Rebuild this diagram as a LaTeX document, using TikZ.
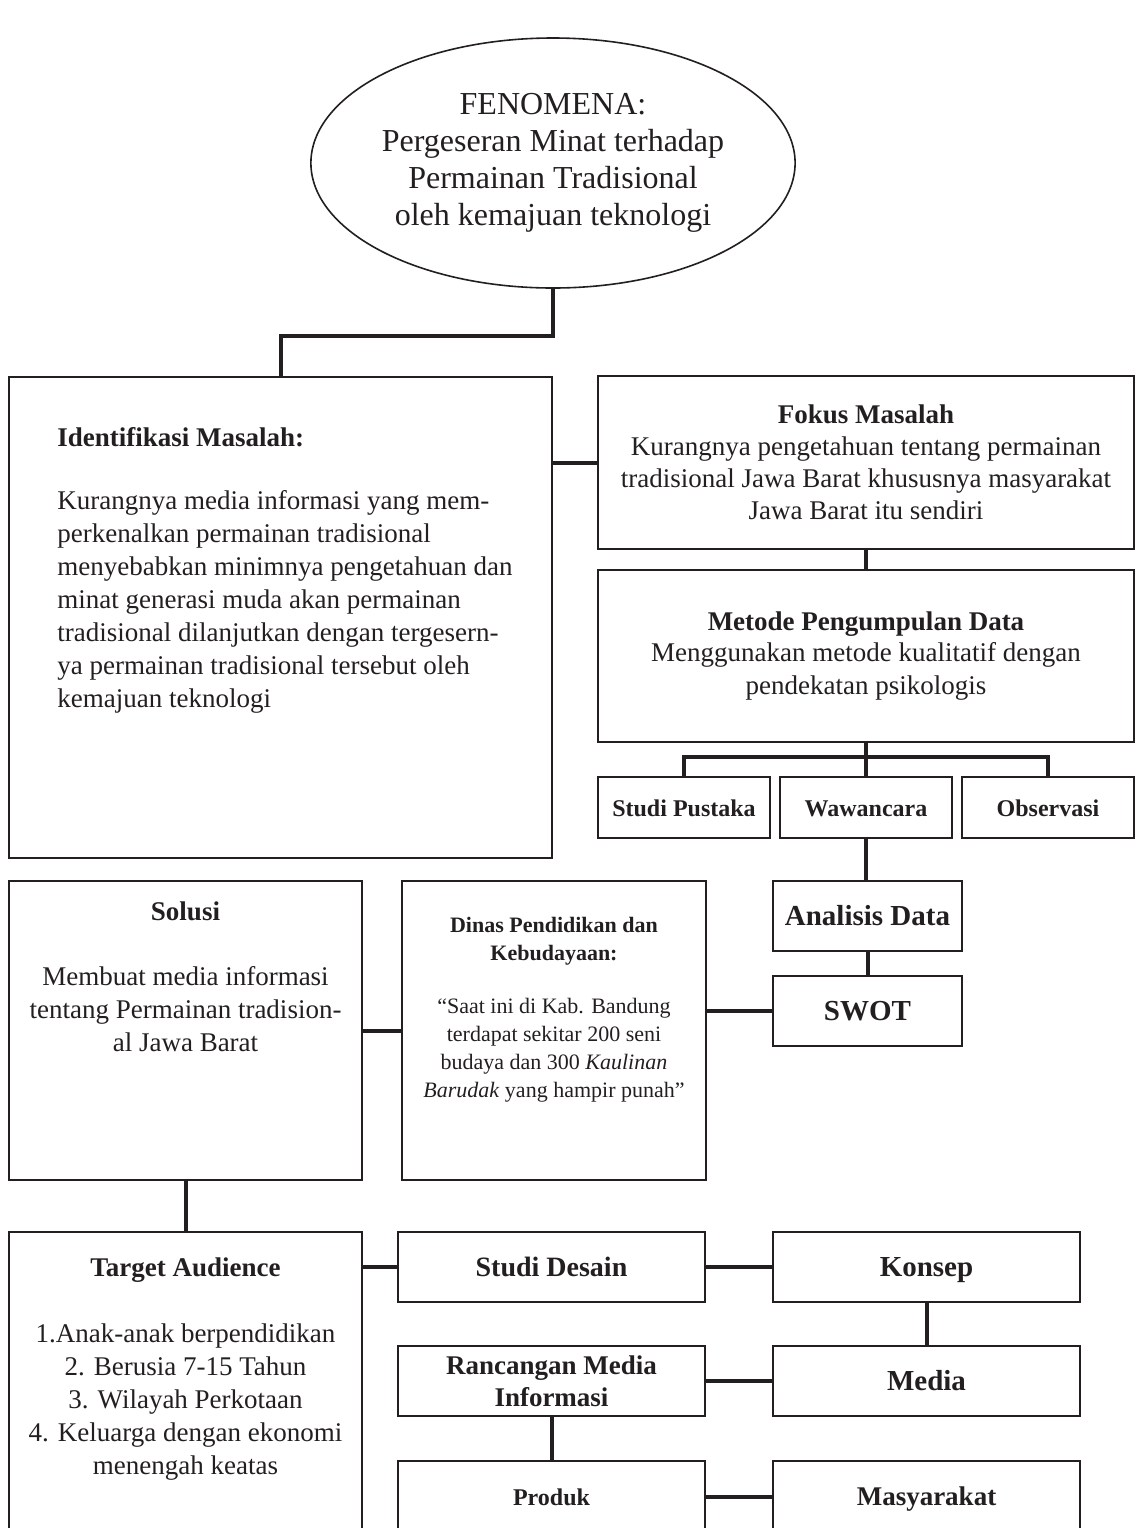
\documentclass[tikz,border=0pt]{standalone}
\usepackage{fontspec}
\setmainfont{Liberation Serif}
\usetikzlibrary{shapes.geometric}
\definecolor{tinta}{HTML}{231F20}
\newcommand{\hurufbesar}{\fontsize{16}{18.5}\selectfont}
\newcommand{\hurufisi}{\fontsize{13.5}{16.5}\selectfont}
\newcommand{\hurufkecil}{\fontsize{11}{14}\selectfont}

\begin{document}
\begin{tikzpicture}[x=0.5pt,y=-0.5pt,color=tinta,
    kotak/.style={draw, line width=1pt, inner sep=0pt, align=center},
    tunggal/.style={kotak, text height=11pt, text depth=2pt},
    garis/.style={line width=2pt},
    teks/.style={inner sep=0pt, font=\hurufisi}]
    \useasboundingbox (0,0) rectangle (1135,1528);

    % fenomena
    \node[ellipse, draw, line width=0.8pt, inner sep=0pt, align=center, minimum width=237pt, minimum height=125pt, font=\hurufbesar] (fenomena) at (553,163) {FENOMENA:\\Pergeseran Minat terhadap\\Permainan Tradisional\\oleh kemajuan teknologi};

    % kolom kiri atas
    \node[kotak, minimum width=271.5pt, minimum height=240.5pt] (identifikasi) at (280.5,617.5) {};
    \node[teks, align=left, anchor=north west] (identifikasiteks) at (57,427) {\textbf{Identifikasi Masalah:}\\[15pt]Kurangnya media informasi yang mem-\\perkenalkan permainan tradisional\\menyebabkan minimnya pengetahuan dan\\minat generasi muda akan permainan\\tradisional dilanjutkan dengan tergesern-\\ya permainan tradisional tersebut oleh\\kemajuan teknologi};

    % kolom kanan atas
    \node[kotak, minimum width=268pt, minimum height=86.5pt, font=\fontsize{13.5}{16}\selectfont] (fokus) at (866,462.5) {\textbf{Fokus Masalah}\\Kurangnya pengetahuan tentang permainan\\tradisional Jawa Barat khususnya masyarakat\\Jawa Barat itu sendiri};
    \node[kotak, minimum width=268pt, minimum height=86pt, font=\hurufisi] (metode) at (866,656) {\textbf{Metode Pengumpulan Data}\\[-1pt]Menggunakan metode kualitatif dengan\\pendekatan psikologis};
    \node[tunggal, minimum width=86pt, minimum height=30.5pt, font=\fontsize{12}{14}\selectfont\bfseries] (pustaka) at (684,807.5) {Studi Pustaka};
    \node[tunggal, minimum width=86pt, minimum height=30.5pt, font=\fontsize{12}{14}\selectfont\bfseries] (wawancara) at (866,807.5) {Wawancara};
    \node[tunggal, minimum width=86pt, minimum height=30.5pt, font=\fontsize{12}{14}\selectfont\bfseries] (observasi) at (1048,807.5) {Observasi};
    \node[tunggal, minimum width=94.5pt, minimum height=35pt, font=\fontsize{14.5}{17}\selectfont\bfseries] (analisis) at (867.5,916) {Analisis Data};
    \node[tunggal, minimum width=94.5pt, minimum height=35pt, font=\fontsize{14.5}{17}\selectfont\bfseries] (swot) at (867.5,1011) {SWOT};

    % baris tengah
    \node[kotak, minimum width=176.5pt, minimum height=149.5pt] (solusi) at (185.5,1030.5) {};
    \node[teks, align=center, anchor=north] (solusiteks) at (185.5,901) {\textbf{Solusi}\\[16pt]Membuat media informasi\\tentang Permainan tradision-\\al Jawa Barat};
    \node[kotak, minimum width=152pt, minimum height=149.5pt] (dinas) at (554,1030.5) {};
    \node[inner sep=0pt, align=center, anchor=north, font=\hurufkecil] (dinasteks) at (554,917) {\textbf{Dinas Pendidikan dan}\\\textbf{Kebudayaan:}\\[12.5pt]``Saat ini di Kab. Bandung\\terdapat sekitar 200 seni\\budaya dan 300 \textit{Kaulinan}\\\textit{Barudak} yang hampir punah''};

    % baris bawah
    \node[kotak, minimum width=176.5pt, minimum height=164pt] (target) at (185.5,1396) {};
    \node[teks, align=center, anchor=north] (targetteks) at (185.5,1257) {\textbf{Target Audience}\\[16.5pt]1.Anak-anak berpendidikan\\2. Berusia 7-15 Tahun\\3. Wilayah Perkotaan\\4. Keluarga dengan ekonomi\\menengah keatas};
    \node[tunggal, minimum width=153.5pt, minimum height=35pt, font=\fontsize{14}{16}\selectfont\bfseries] (desain) at (551.5,1267) {Studi Desain};
    \node[tunggal, minimum width=153.5pt, minimum height=35pt, font=\fontsize{14.5}{16}\selectfont\bfseries] (konsep) at (926.5,1267) {Konsep};
    \node[kotak, minimum width=153.5pt, minimum height=35pt, font=\fontsize{13.5}{16}\selectfont\bfseries] (rancangan) at (551.5,1381) {Rancangan Media\\Informasi};
    \node[tunggal, minimum width=153.5pt, minimum height=35pt, font=\fontsize{14.5}{16}\selectfont\bfseries] (media) at (926.5,1381) {Media};
    \node[tunggal, minimum width=153.5pt, minimum height=35.5pt, font=\fontsize{12}{14}\selectfont\bfseries] (produk) at (551.5,1496.5) {Produk};
    \node[tunggal, minimum width=153.5pt, minimum height=35.5pt, font=\fontsize{13.5}{16}\selectfont\bfseries] (masyarakat) at (926.5,1496.5) {Masyarakat};

    % garis penghubung
    \draw[garis] (fenomena.south) -- ++(0,47) -| (identifikasi.north);
    \draw[garis] (fokus.west) -- (fokus.west -| identifikasi.east);
    \draw[garis] (fokus.south) -- (metode.north);
    \draw[garis] (metode.south) -- (wawancara.north);
    \draw[garis] (pustaka.north) -- ++(0,-19) -| (observasi.north);
    \draw[garis] (wawancara.south) -- (wawancara.south |- analisis.north);
    \draw[garis] (analisis.south) -- (swot.north);
    \draw[garis] (swot.west) -- (swot.west -| dinas.east);
    \draw[garis] (solusi.east) -- (dinas.west);
    \draw[garis] (solusi.south) -- (target.north);
    \draw[garis] (desain.west) -- (desain.west -| target.east);
    \draw[garis] (desain.east) -- (konsep.west);
    \draw[garis] (konsep.south) -- (media.north);
    \draw[garis] (rancangan.east) -- (media.west);
    \draw[garis] (rancangan.south) -- (produk.north);
    \draw[garis] (produk.east) -- (masyarakat.west);
\end{tikzpicture}
\end{document}
